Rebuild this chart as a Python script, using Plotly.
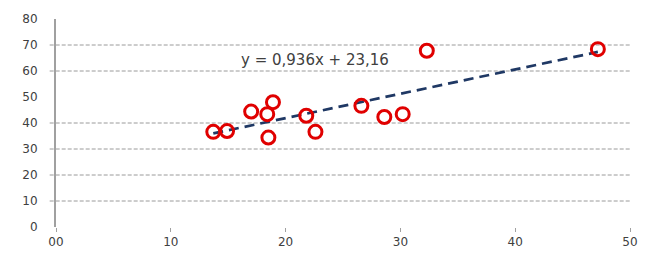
import plotly.graph_objects as go

# Data
x_vals = [13.7, 14.9, 17.0, 18.4, 18.9, 18.5, 21.8, 22.6, 26.6, 28.6, 30.2, 32.3, 47.2]
y_vals = [36.6, 36.9, 44.4, 43.4, 48.0, 34.4, 42.8, 36.6, 46.6, 42.3, 43.4, 67.8, 68.4]

slope = 0.936
intercept = 23.16
equation_text = "y = 0,936x + 23,16"

x_ticks = [0, 10, 20, 30, 40, 50]
x_tick_labels = ["00", "10", "20", "30", "40", "50"]
y_ticks = [0, 10, 20, 30, 40, 50, 60, 70, 80]
grid_values = [10, 20, 30, 40, 60, 70]

x_min, x_max = min(x_vals), max(x_vals)
trend_x = [x_min, x_max]
trend_y = [slope * v + intercept for v in trend_x]

fig = go.Figure()
fig.add_trace(go.Scatter(
    x=trend_x, y=trend_y, mode="lines",
    line=dict(color="#1f3864", width=2.7, dash="10px,6px"),
    hoverinfo="skip", showlegend=False,
))
fig.add_trace(go.Scatter(
    x=x_vals, y=y_vals, mode="markers",
    marker=dict(symbol="circle-open", size=13, color="#e00000",
                line=dict(width=3, color="#e00000")),
    showlegend=False,
))

for g in grid_values:
    fig.add_shape(type="line", xref="paper", yref="y",
                  x0=-0.011, x1=1, y0=g, y1=g,
                  line=dict(color="#9a9a9a", width=1, dash="4px,2px"),
                  layer="below")

fig.add_annotation(x=22.6, y=64.4, xref="x", yref="y", text=equation_text,
                   showarrow=False, font=dict(family="DejaVu Sans", size=15, color="#404040"))

fig.update_layout(
    width=668, height=261,
    margin=dict(l=56, r=38, t=18, b=32),
    plot_bgcolor="white", paper_bgcolor="white",
    font=dict(family="DejaVu Sans", size=12, color="#404040"),
)
fig.update_xaxes(
    range=[0, 50], tickvals=x_ticks, ticktext=x_tick_labels,
    showgrid=False, zeroline=False, showline=False,
    ticks="outside", ticklen=4, tickcolor="#a0a0a0", tickwidth=1,
)
fig.update_yaxes(
    range=[0, 80], tickvals=y_ticks,
    showgrid=False, zeroline=False, showline=True, linecolor="#a0a0a0", linewidth=2,
    ticks="outside", ticklen=14, tickcolor="rgba(0,0,0,0)",
)

fig.write_html("out.html")
